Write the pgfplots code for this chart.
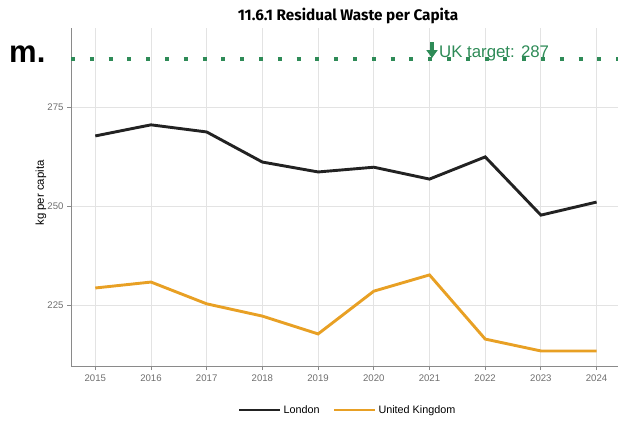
\documentclass[border=0pt]{standalone}
\usepackage{pgfplots}
\pgfplotsset{compat=1.18}
\usepackage{fontspec}
\setmainfont{Liberation Sans}
\newfontfamily\titlefont{Fira Sans}
\usetikzlibrary{arrows.meta}
\definecolor{londonc}{HTML}{222222}
\definecolor{ukc}{HTML}{E8A024}
\definecolor{targetc}{HTML}{2E8B57}
\definecolor{gridc}{HTML}{E3E3E3}
\definecolor{axisc}{HTML}{8A8A8A}
\definecolor{tickc}{HTML}{6E6E6E}
\pgfplotstableread{
year london uk
2015 267.7 229.3
2016 270.5 230.8
2017 268.7 225.3
2018 261.1 222.2
2019 258.6 217.7
2020 259.8 228.5
2021 256.8 232.6
2022 262.4 216.4
2023 247.7 213.4
2024 251.0 213.4
}\datatable
\begin{document}
\begin{tikzpicture}
\useasboundingbox (0pt,0pt) rectangle (618pt,-421pt);
\begin{axis}[
  at={(71pt,-366pt)}, anchor=south west,
  scale only axis, width=547pt, height=338pt,
  xmin=2014.564, xmax=2024.384,
  ymin=209.6, ymax=294.95,
  xtick={2015,...,2024},
  ytick={225,250,275},
  xticklabel style={/pgf/number format/1000 sep={}},
  /pgf/number format/assume math mode=true,
  tick label style={font=\fontsize{9.6}{10}\selectfont, text=tickc},
  grid=major,
  major grid style={gridc, line width=0.9pt},
  axis line style={axisc, line width=0.9pt},
  axis x line*=bottom, axis y line*=left,
  x axis line style={-}, y axis line style={-},
  tick style={axisc, line width=0.8pt},
  tick align=outside, major tick length=4pt,
  xticklabel shift=1pt, yticklabel shift=0pt,
  legend style={at={(0.5055,-0.13)}, anchor=center, draw=none, fill=none,
    font=\fontsize{10.8}{12}\selectfont, legend columns=2,
    /tikz/every even column/.append style={column sep=11pt}},
  legend cell align=left,
  legend image code/.code={\draw[#1] (0pt,0pt) -- (41pt,0pt);},
  clip=false,
]
\addplot[targetc, line width=4pt, dash pattern=on 4pt off 14.8pt, forget plot] coordinates {(2014.564,287) (2024.384,287)};
\addplot[londonc, line width=2.9pt, line join=miter] table[x=year,y=london] {\datatable};
\addlegendentry{London}
\addplot[ukc, line width=2.9pt, line join=miter] table[x=year,y=uk] {\datatable};
\addlegendentry{United Kingdom}
\end{axis}
% y label
\node[rotate=90, anchor=center, inner sep=0pt, font=\fontsize{11.4}{12}\selectfont] at (41pt,-193pt) {kg per capita};
% title
\node[anchor=base, inner sep=0pt, font=\titlefont\bfseries\fontsize{15.3}{16}\selectfont] at (348pt,-20pt) {11.6.1 Residual Waste per Capita};
% logo fragment
\node[anchor=base west, inner sep=0pt, font=\bfseries\fontsize{31}{32}\selectfont] at (9pt,-62pt) {m.};
% target annotation
\draw[targetc, line width=3.6pt, -{Triangle[width=11pt,length=8pt]}] (432pt,-42pt) -- (432pt,-58pt);
\node[anchor=base west, inner sep=0pt, text=targetc, font=\fontsize{16.8}{18}\selectfont] at (439pt,-57pt) {UK target: 287};
\end{tikzpicture}
\end{document}
